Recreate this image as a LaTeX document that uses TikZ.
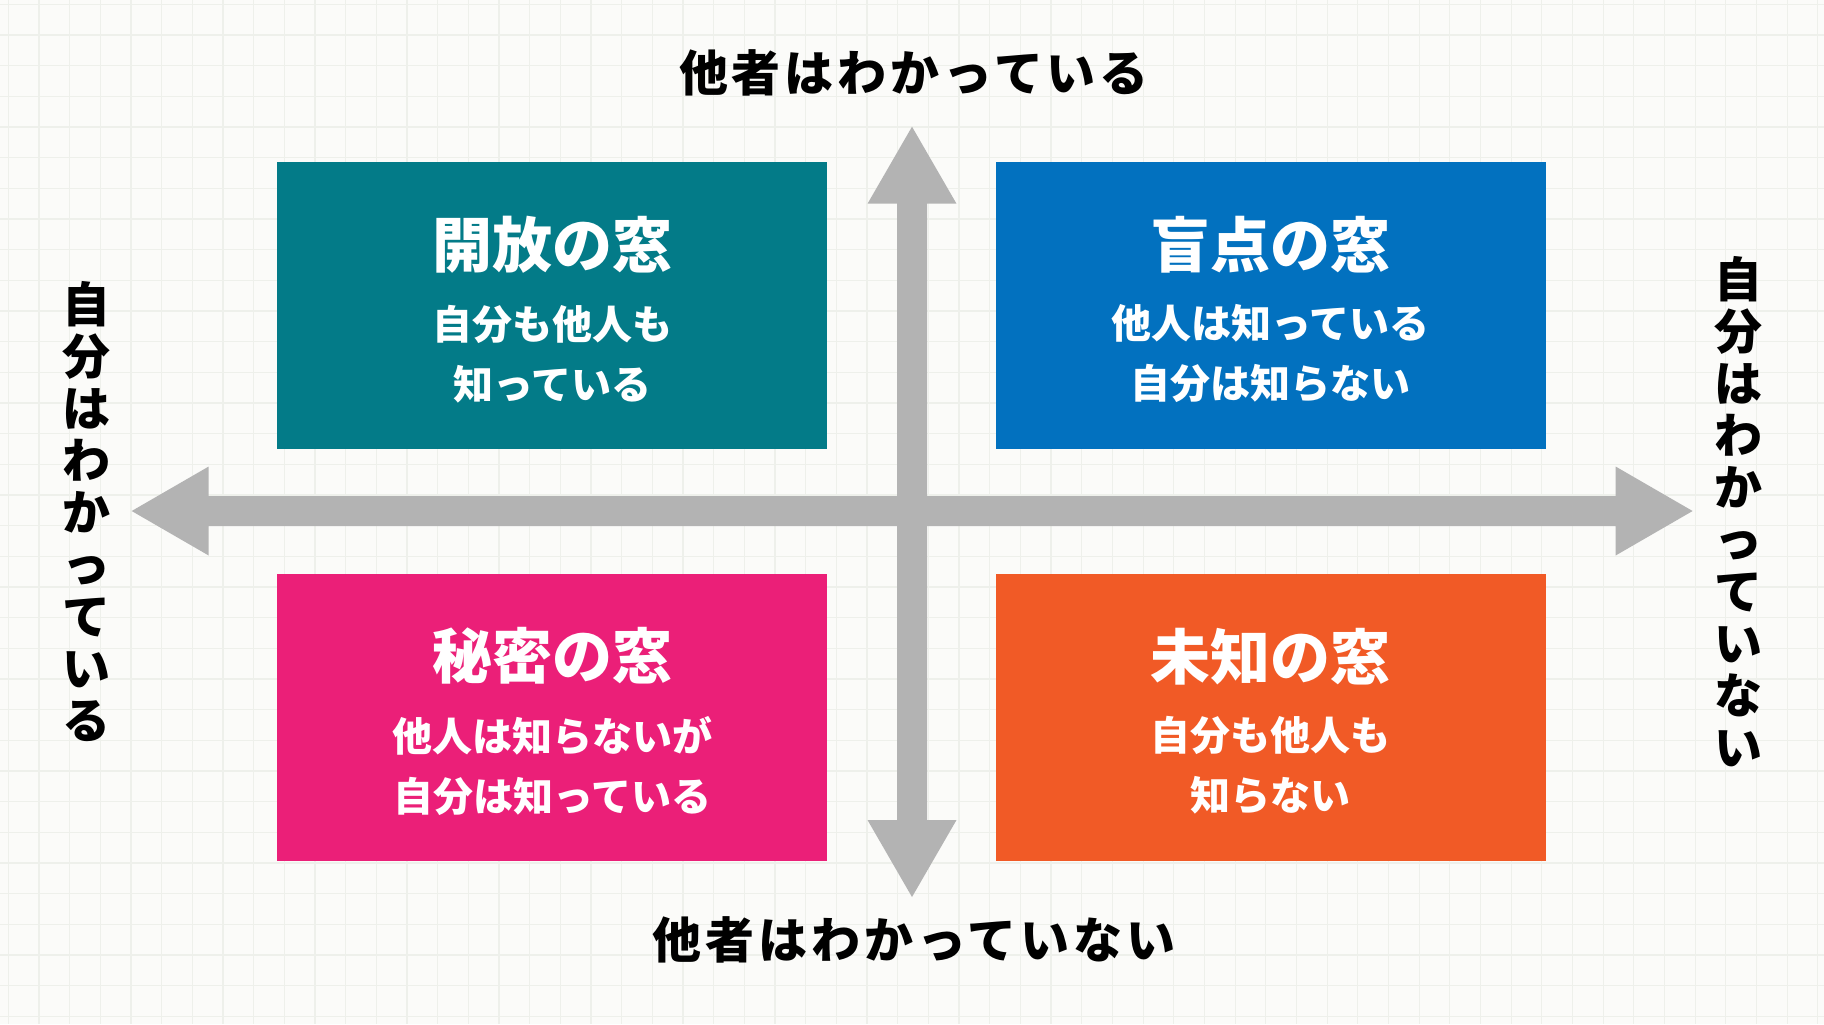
\documentclass[tikz,border=0pt]{standalone}
\usepackage{fontspec}
\newfontfamily\jp{Noto Sans CJK JP}
\newfontfamily\jpwide{Noto Sans CJK JP}[LetterSpace=8]
\usetikzlibrary{calc}

\definecolor{bgpaper}{HTML}{FBFBF9}
\definecolor{gridline}{HTML}{EEF0EB}
\definecolor{axisgray}{HTML}{B3B3B3}
\definecolor{openwin}{HTML}{037B88}
\definecolor{blindwin}{HTML}{0271BF}
\definecolor{hiddenwin}{HTML}{EB1F78}
\definecolor{unknownwin}{HTML}{F15A26}

\tikzset{
  window/.style={minimum width=275pt, minimum height=143.6pt, inner sep=0pt, outer sep=0pt},
  wintitle/.style={text=white, inner sep=0pt, font=\jp\bfseries\fontsize{30}{36}\selectfont},
  winnote/.style={text=white, inner sep=0pt, align=center, font=\jp\bfseries\fontsize{20}{30}\selectfont},
  axislabel/.style={inner sep=0pt, font=\jpwide\bfseries\fontsize{24.5}{26}\selectfont},
  sidelabel/.style={inner sep=0pt, align=center, font=\jp\bfseries\fontsize{24}{26}\selectfont},
}

\begin{document}
\begin{tikzpicture}[x=0.5pt, y=-0.5pt]
  \useasboundingbox (0,0) rectangle (1824,1024);
  % paper with grid
  \fill[bgpaper] (0,0) rectangle (1824,1024);
  \foreach \k in {0,...,59}
    \draw[gridline, line width=0.6pt] (8.3+30.67*\k,0) -- (8.3+30.67*\k,1024);
  \foreach \k in {0,...,33}
    \draw[gridline, line width=0.6pt] (0,4.3+30.67*\k) -- (1824,4.3+30.67*\k);

  % the two axes
  \fill[axisgray] (912,126.7) -- (956.5,203.7) -- (927,203.7) -- (927,820) -- (956.5,820)
    -- (912,897) -- (867.5,820) -- (897,820) -- (897,203.7) -- (867.5,203.7) -- cycle;
  \fill[axisgray] (131.7,511) -- (208.7,466.5) -- (208.7,496) -- (1615.6,496) -- (1615.6,466.5)
    -- (1692.6,511) -- (1615.6,555.5) -- (1615.6,526) -- (208.7,526) -- (208.7,555.5) -- cycle;

  % the four windows
  \foreach \n/\c/\x/\y/\t/\a/\b in {
      open/openwin/552/305.4/開放の窓/自分も他人も/知っている,
      blind/blindwin/1270.9/305.4/盲点の窓/他人は知っている/自分は知らない,
      hidden/hiddenwin/552/717.2/秘密の窓/他人は知らないが/自分は知っている,
      unknown/unknownwin/1270.9/717.2/未知の窓/自分も他人も/知らない} {
    \node[window, fill=\c] (\n) at (\x,\y) {};
    \node[wintitle] (\n-title) at ($(\n.north)+(0,82.6)$) {\t};
    \node[winnote] (\n-note) at ($(\n.north)+(0,192)$) {\a\\\b};
  }

  % axis labels
  \node[axislabel] (others) at (914,73) {他者はわかっている};
  \node[axislabel] (othersnot) at (914,940) {他者はわかっていない};
  \node[sidelabel] (self) at (86,512) {自\\分\\は\\わ\\か\\っ\\て\\い\\る};
  \node[sidelabel] (selfnot) at (1738,512) {自\\分\\は\\わ\\か\\っ\\て\\い\\な\\い};
\end{tikzpicture}
\end{document}
